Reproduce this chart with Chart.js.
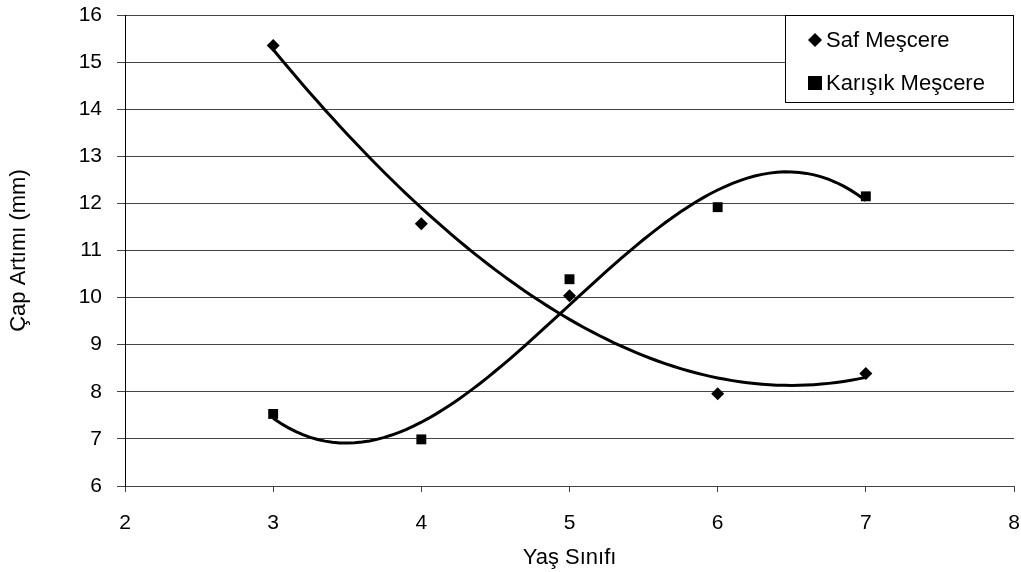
<!DOCTYPE html>
<html>
<head>
<meta charset="utf-8">
<script src="https://cdn.jsdelivr.net/npm/chart.js@4.4.1/dist/chart.umd.min.js"></script>
<style>
  html, body { margin: 0; padding: 0; background: #fff; }
  #wrap { width: 1021px; height: 572px; }
</style>
</head>
<body>
<div id="wrap"><canvas id="capChart" width="1021" height="572"></canvas></div>
<script>
// Yaş sınıfı ve çap artımı değerleri
const yasSiniflari = [3, 4, 5, 6, 7];
const safMescere = [15.35, 11.57, 10.04, 7.96, 8.39];
const karisikMescere = [7.53, 6.99, 10.39, 11.92, 12.15];
const xTicks = [2, 3, 4, 5, 6, 7, 8];
const yTicks = [6, 7, 8, 9, 10, 11, 12, 13, 14, 15, 16];

const FONT = '"Liberation Sans", Arial, sans-serif';

// 3. derece polinom trend çizgisi (en küçük kareler)
function cubicFit(xs, ys) {
    const n = 4;
    let A = [], b = [];
    for (let i = 0; i < n; i++) {
        A.push(new Array(n).fill(0));
        b.push(0);
    }
    xs.forEach(function(x, k) {
        const t = x - 5;
        for (let i = 0; i < n; i++) {
            for (let j = 0; j < n; j++) A[i][j] += Math.pow(t, i + j);
            b[i] += ys[k] * Math.pow(t, i);
        }
    });
    for (let c = 0; c < n; c++) {
        for (let r = c + 1; r < n; r++) {
            const f = A[r][c] / A[c][c];
            for (let j = c; j < n; j++) A[r][j] -= f * A[c][j];
            b[r] -= f * b[c];
        }
    }
    let coef = new Array(n).fill(0);
    for (let r = n - 1; r >= 0; r--) {
        let s = b[r];
        for (let j = r + 1; j < n; j++) s -= A[r][j] * coef[j];
        coef[r] = s / A[r][r];
    }
    return function(x) {
        const t = x - 5;
        return coef[0] + coef[1] * t + coef[2] * t * t + coef[3] * t * t * t;
    };
}

function trendPoints(ys) {
    const f = cubicFit(yasSiniflari, ys);
    let pts = [];
    const x0 = yasSiniflari[0], x1 = yasSiniflari[yasSiniflari.length - 1];
    for (let i = 0; i <= 80; i++) {
        const x = x0 + (x1 - x0) * i / 80;
        pts.push({ x: x, y: f(x) });
    }
    return pts;
}

const toPoints = ys => yasSiniflari.map((x, i) => ({ x: x, y: ys[i] }));

// Grafiğin içindeki lejant kutusu
const boxLegend = {
    id: 'boxLegend',
    afterDraw(chart) {
        const ctx = chart.ctx;
        const x = 785, y = 15, w = 228, h = 87;
        ctx.save();
        ctx.fillStyle = '#fff';
        ctx.fillRect(x, y, w, h);
        ctx.strokeStyle = '#000';
        ctx.lineWidth = 1;
        ctx.strokeRect(x + 0.5, y + 0.5, w, h);
        ctx.fillStyle = '#000';
        ctx.font = '22px ' + FONT;
        ctx.textBaseline = 'middle';
        const dy1 = 40, dy2 = 83, mx = 815;
        // romb
        ctx.beginPath();
        ctx.moveTo(mx, dy1 - 7);
        ctx.lineTo(mx + 7, dy1);
        ctx.lineTo(mx, dy1 + 7);
        ctx.lineTo(mx - 7, dy1);
        ctx.closePath();
        ctx.fill();
        ctx.fillText(chart.data.datasets[0].label, 826, dy1 + 1);
        // kare
        ctx.fillRect(mx - 7, dy2 - 7, 14, 14);
        ctx.fillText(chart.data.datasets[1].label, 826, dy2 + 1);
        ctx.restore();
    }
};

const ctx = document.getElementById('capChart').getContext('2d');
new Chart(ctx, {
    type: 'scatter',
    data: {
        datasets: [{
            label: 'Saf Meşcere',
            data: toPoints(safMescere),
            pointStyle: 'rectRot',
            pointRadius: 6.5,
            backgroundColor: '#000',
            borderColor: '#000',
            borderWidth: 0,
            order: 1
        }, {
            label: 'Karışık Meşcere',
            data: toPoints(karisikMescere),
            pointStyle: 'rect',
            pointRadius: 7,
            backgroundColor: '#000',
            borderColor: '#000',
            borderWidth: 0,
            order: 1
        }, {
            label: 'trend1',
            type: 'line',
            data: trendPoints(safMescere),
            showLine: true,
            pointRadius: 0,
            borderColor: '#000',
            borderWidth: 3,
            fill: false,
            order: 2
        }, {
            label: 'trend2',
            type: 'line',
            data: trendPoints(karisikMescere),
            showLine: true,
            pointRadius: 0,
            borderColor: '#000',
            borderWidth: 3,
            fill: false,
            order: 2
        }]
    },
    options: {
        responsive: false,
        animation: false,
        layout: { padding: { top: 0, right: 6, left: 0, bottom: 0 } },
        plugins: {
            legend: { display: false },
            tooltip: { enabled: false }
        },
        scales: {
            x: {
                type: 'linear',
                min: 2,
                max: 8,
                afterBuildTicks: function(scale) {
                    scale.ticks = xTicks.map(v => ({ value: v }));
                },
                afterFit: function(scale) {
                    scale.height = 86;
                    scale.paddingLeft = 0;
                    scale.paddingRight = 0;
                },
                grid: {
                    drawOnChartArea: false,
                    drawTicks: true,
                    tickLength: 6,
                    color: '#444'
                },
                border: { color: '#444', width: 1 },
                ticks: {
                    color: '#000',
                    padding: 19,
                    maxRotation: 0,
                    font: { family: FONT, size: 21 }
                },
                title: {
                    display: true,
                    text: 'Yaş Sınıfı',
                    color: '#000',
                    padding: { top: 0, bottom: 1 },
                    font: { family: FONT, size: 22 }
                }
            },
            y: {
                min: 6,
                max: 16,
                afterBuildTicks: function(scale) {
                    scale.ticks = yTicks.map(v => ({ value: v }));
                },
                afterFit: function(scale) {
                    scale.width = 125;
                    scale.paddingTop = 15;
                    scale.paddingBottom = 0;
                },
                grid: {
                    color: '#444',
                    tickLength: 8,
                    lineWidth: 1
                },
                border: { color: '#000', width: 1 },
                ticks: {
                    color: '#000',
                    padding: 15,
                    font: { family: FONT, size: 21 }
                },
                title: {
                    display: true,
                    text: 'Çap Artımı (mm)',
                    color: '#000',
                    padding: { top: 6, bottom: 0 },
                    font: { family: FONT, size: 22 }
                }
            }
        }
    },
    plugins: [boxLegend]
});
</script>
</body>
</html>
